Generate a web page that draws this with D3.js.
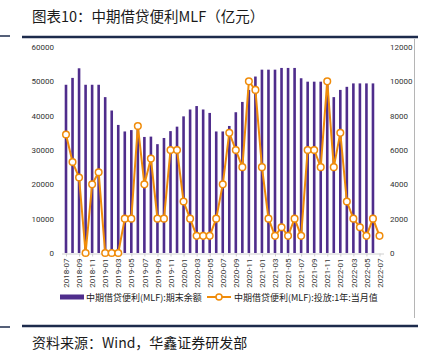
<!DOCTYPE html>
<html><head><meta charset="utf-8">
<script src="https://cdn.jsdelivr.net/npm/d3@7"></script>
<style>
html,body{margin:0;padding:0;background:#fff;}
svg{display:block;}
</style></head>
<body>
<svg id="c" width="430" height="355"></svg>
<script>
const months = ["2018-07","2018-08","2018-09","2018-10","2018-11","2018-12",
"2019-01","2019-02","2019-03","2019-04","2019-05","2019-06","2019-07","2019-08","2019-09","2019-10","2019-11","2019-12",
"2020-01","2020-02","2020-03","2020-04","2020-05","2020-06","2020-07","2020-08","2020-09","2020-10","2020-11","2020-12",
"2021-01","2021-02","2021-03","2021-04","2021-05","2021-06","2021-07","2021-08","2021-09","2021-10","2021-11","2021-12",
"2022-01","2022-02","2022-03","2022-04","2022-05","2022-06","2022-07"];
const balance = [49000,51000,53800,49000,49000,49000,
45400,41500,37300,35400,35800,36500,33800,33900,31700,33500,35500,36800,
39800,41800,42800,41800,40800,35400,35400,37000,41000,44000,47500,51400,
53400,53400,53400,53900,53900,53900,50900,49900,49900,49900,50000,45400,
47500,48400,49400,49400,49400,49400,null];
const injection = [6900,5300,4400,0,4000,4700,
0,0,0,2000,2000,7400,4000,5500,2000,2000,6000,6000,
3000,2000,1000,1000,1000,2000,4000,7000,6000,5000,10000,9500,
5000,2000,1000,1500,1000,2000,1000,6000,6000,5000,10000,5000,
7000,3000,2000,1500,1000,2000,1000];
const xTickLabels = ["2018-07","2018-09","2018-11","2019-01","2019-03","2019-05","2019-07","2019-09","2019-11",
"2020-01","2020-03","2020-05","2020-07","2020-09","2020-11","2021-01","2021-03","2021-05","2021-07","2021-09","2021-11",
"2022-01","2022-03","2022-05","2022-07"];
const leftTicks = [0,10000,20000,30000,40000,50000,60000];
const rightTicks = [0,2000,4000,6000,8000,10000,12000];
const legendLabels = ["中期借贷便利(MLF):期末余额","中期借贷便利(MLF):投放:1年:当月值"];
const titleText = "图表10：中期借贷便利MLF（亿元）";
const sourceText = "资料来源：Wind，华鑫证券研发部";

const svg = d3.select("#c");
const purple = "#4f2d8c", orange = "#f08c0a", navy = "#1d2b4c";
const cjk = "'Noto Sans CJK SC','Noto Sans',sans-serif";
const num = "Roboto,'Liberation Sans',Arial,sans-serif";

const x = d3.scalePoint().domain(months).range([66, 379.5]);
const yL = d3.scaleLinear().domain([0,60000]).range([253,47]);
const yR = d3.scaleLinear().domain([0,12000]).range([253,47]);

// title
svg.append("text").attr("x",32).attr("y",22).attr("font-family",cjk).attr("font-size",14.5)
  .attr("fill","#1a1a1a").text(titleText);
// top rules
svg.append("line").attr("x1",22).attr("x2",418).attr("y1",37).attr("y2",37).attr("stroke",navy).attr("stroke-width",2.5);
svg.append("line").attr("x1",0).attr("x2",10).attr("y1",36).attr("y2",36).attr("stroke",navy).attr("stroke-width",1.5);
// right border
svg.append("line").attr("x1",414.5).attr("x2",414.5).attr("y1",39).attr("y2",318).attr("stroke","#b5b5b5").attr("stroke-width",1);

// x axis
const xAxis = d3.axisBottom(x).tickValues(xTickLabels).tickSize(3).tickSizeOuter(0);
const gx = svg.append("g").attr("transform","translate(0,253.5)").call(xAxis);
gx.select(".domain").attr("stroke","#d0d0d0").attr("d","M62,0.5H384");
gx.selectAll(".tick line").attr("stroke","#d0d0d0");
gx.selectAll(".tick text").attr("font-family",num).attr("font-size",8).attr("fill","#333")
  .attr("transform","rotate(-90)").attr("text-anchor","end").attr("dx","-5").attr("dy","-0.35em").attr("x",0).attr("y",0)
  .attr("transform",function(){ return "rotate(-90)"; });
gx.selectAll(".tick text").attr("x",-5).attr("y",0).attr("dx",0).attr("dy","0.33em");

// left axis
const gl = svg.append("g").attr("transform","translate(54,0)")
  .call(d3.axisLeft(yL).tickValues(leftTicks).tickSize(0).tickFormat(d3.format("d")));
gl.select(".domain").remove();
gl.selectAll("text").attr("font-family",num).attr("font-size",8).attr("fill","#333").attr("x",0);
// right axis
const gr = svg.append("g").attr("transform","translate(390,0)")
  .call(d3.axisRight(yR).tickValues(rightTicks).tickSize(0).tickFormat(d3.format("d")));
gr.select(".domain").remove();
gr.selectAll("text").attr("font-family",num).attr("font-size",8).attr("fill","#333").attr("x",0);

// bars
const bw = 2.6;
svg.append("g").selectAll("rect").data(months.map((m,i)=>({m,v:balance[i]})).filter(d=>d.v!=null))
  .join("rect").attr("x",d=>x(d.m)-bw/2).attr("width",bw)
  .attr("y",d=>yL(d.v)).attr("height",d=>yL(0)-yL(d.v)).attr("fill",purple);

// line
const pts = months.map((m,i)=>({m,v:injection[i]}));
svg.append("path").datum(pts).attr("fill","none").attr("stroke",orange).attr("stroke-width",2)
  .attr("stroke-linejoin","round")
  .attr("d",d3.line().x(d=>x(d.m)).y(d=>yR(d.v)));
svg.append("g").selectAll("circle").data(pts).join("circle")
  .attr("cx",d=>x(d.m)).attr("cy",d=>yR(d.v)).attr("r",3.3)
  .attr("fill","#fff").attr("stroke",orange).attr("stroke-width",1.5);

// legend
const lg = svg.append("g");
lg.append("rect").attr("x",60).attr("y",294.5).attr("width",24).attr("height",5).attr("fill",purple);
lg.append("text").attr("x",86).attr("y",300.5).attr("font-family",cjk).attr("font-size",9).attr("fill","#222").text(legendLabels[0]);
lg.append("line").attr("x1",207).attr("x2",231).attr("y1",297).attr("y2",297).attr("stroke",orange).attr("stroke-width",2);
lg.append("circle").attr("cx",219).attr("cy",297).attr("r",3).attr("fill","#fff").attr("stroke",orange).attr("stroke-width",1.5);
lg.append("text").attr("x",234).attr("y",300.5).attr("font-family",cjk).attr("font-size",9).attr("fill","#222").text(legendLabels[1]);

// bottom rules & source
svg.append("line").attr("x1",22).attr("x2",418).attr("y1",326).attr("y2",326).attr("stroke",navy).attr("stroke-width",2.5);
svg.append("line").attr("x1",0).attr("x2",10).attr("y1",327).attr("y2",327).attr("stroke",navy).attr("stroke-width",1.5);
svg.append("text").attr("x",32).attr("y",348).attr("font-family",cjk).attr("font-size",14).attr("fill","#1a1a1a").text(sourceText);
</script>
</body></html>
